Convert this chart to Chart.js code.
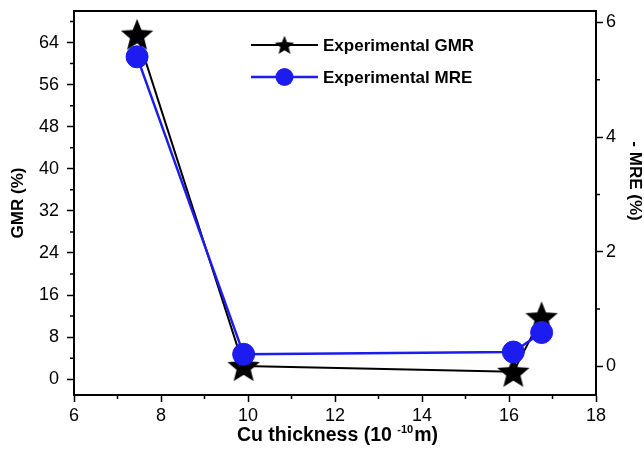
<!DOCTYPE html>
<html>
<head>
<meta charset="utf-8">
<script src="https://cdn.jsdelivr.net/npm/chart.js@4.4.0/dist/chart.umd.min.js"></script>
<style>
  html, body { margin: 0; padding: 0; background: #fff; }
</style>
</head>
<body>
<canvas id="chart" width="644" height="458"></canvas>
<script>
// Cu thickness, in units of 10^-10 m
var thickness = [7.45, 9.9, 16.1, 16.75];
var gmrValues = [65.5, 2.5, 1.4, 11.8];
var mreValues = [5.40, 0.21, 0.25, 0.59];

var xTicks = [6, 8, 10, 12, 14, 16, 18];
var gmrTicks = [0, 8, 16, 24, 32, 40, 48, 56, 64];
var mreTicks = [0, 2, 4, 6];

// x title is drawn by hand to get the superscript: base, sup, tail
var xTitle = ['Cu thickness (10 ', '-10', 'm)'];
var mreTitle = '- MRE (%)';

var BLUE = '#1c1cf0';
var FONT = "'Liberation Sans', Arial, sans-serif";

Chart.defaults.font.family = FONT;
Chart.defaults.color = '#000';

// filled five point star used as point style
function makeStar(r) {
  var size = Math.ceil(r * 2 + 2);
  var c = document.createElement('canvas');
  c.width = size;
  c.height = size;
  var g = c.getContext('2d');
  g.translate(size / 2, size / 2 + r * 0.08);
  g.beginPath();
  for (var i = 0; i < 10; i++) {
    var rad = i % 2 ? r * 0.44 : r;
    var a = -Math.PI / 2 + i * Math.PI / 5;
    g.lineTo(rad * Math.cos(a), rad * Math.sin(a));
  }
  g.closePath();
  g.fillStyle = '#000';
  g.fill();
  return c;
}
var bigStar = makeStar(17);
var smallStar = makeStar(10);

function pairs(xs, ys) {
  return xs.map(function (x, i) { return {x: x, y: ys[i]}; });
}

function setTicks(list) {
  return function (scale) {
    scale.ticks = list.map(function (v) { return {value: v}; });
  };
}

// fixed axis box sizes, no extra room for half labels
function fitWidth(w) {
  return function (s) {
    s.width = w;
    s.paddingTop = 0;
    s.paddingBottom = 0;
  };
}

// minor ticks halfway between the major ones, plus the box frame
var framePlugin = {
  id: 'frame',
  afterDraw: function (chart) {
    var ctx = chart.ctx;
    var a = chart.chartArea;
    ctx.save();
    ctx.strokeStyle = '#000';
    ctx.lineWidth = 1.5;
    var sx = chart.scales.x, sy = chart.scales.y, sr = chart.scales.y1;
    ctx.beginPath();
    for (var i = 0; i < xTicks.length - 1; i++) {
      var px = sx.getPixelForValue((xTicks[i] + xTicks[i + 1]) / 2);
      ctx.moveTo(px, a.bottom);
      ctx.lineTo(px, a.bottom + 4);
    }
    var g = gmrTicks.concat([gmrTicks[gmrTicks.length - 1] + 8]);
    for (var j = 0; j < g.length - 1; j++) {
      var v = (g[j] + g[j + 1]) / 2;
      if (v > sy.max) continue;
      var py = sy.getPixelForValue(v);
      ctx.moveTo(a.left, py);
      ctx.lineTo(a.left - 4, py);
    }
    for (var k = 0; k < mreTicks.length - 1; k++) {
      var pr = sr.getPixelForValue((mreTicks[k] + mreTicks[k + 1]) / 2);
      ctx.moveTo(a.right, pr);
      ctx.lineTo(a.right + 4, pr);
    }
    ctx.stroke();
    ctx.lineWidth = 2;
    ctx.strokeRect(a.left, a.top, a.right - a.left, a.bottom - a.top);

    // x axis title with superscript
    ctx.fillStyle = '#000';
    ctx.textBaseline = 'alphabetic';
    var big = 'bold 19.5px ' + FONT, small = 'bold 11px ' + FONT;
    ctx.font = big;
    var w0 = ctx.measureText(xTitle[0]).width, w2 = ctx.measureText(xTitle[2]).width;
    ctx.font = small;
    var w1 = ctx.measureText(xTitle[1]).width;
    var tx = (a.left + a.right) / 2 - (w0 + w1 + w2) / 2 + 2, ty = 441;
    ctx.font = big;
    ctx.fillText(xTitle[0], tx, ty);
    ctx.font = small;
    ctx.fillText(xTitle[1], tx + w0, ty - 8);
    ctx.font = big;
    ctx.fillText(xTitle[2], tx + w0 + w1 + 1, ty);

    // right axis title, reads top to bottom
    ctx.save();
    ctx.translate(635, 181);
    ctx.rotate(Math.PI / 2);
    ctx.font = 'bold 17px ' + FONT;
    ctx.textAlign = 'center';
    ctx.textBaseline = 'middle';
    ctx.fillText(mreTitle, 0, 0);
    ctx.restore();
    ctx.restore();
  }
};

// Origin style legend: line with marker in the middle
var legendPlugin = {
  id: 'originLegend',
  afterDraw: function (chart) {
    var ctx = chart.ctx;
    var a = chart.chartArea;
    var x0 = a.left + 177, x1 = a.left + 244;
    var rows = [45, 77];
    ctx.save();
    chart.data.datasets.forEach(function (ds, i) {
      var y = rows[i];
      ctx.strokeStyle = ds.borderColor;
      ctx.lineWidth = ds.borderWidth;
      ctx.beginPath();
      ctx.moveTo(x0, y);
      ctx.lineTo(x1, y);
      ctx.stroke();
      var cx = (x0 + x1) / 2;
      if (ds.pointStyle === 'circle') {
        ctx.fillStyle = ds.pointBackgroundColor;
        ctx.beginPath();
        ctx.arc(cx, y, 9, 0, Math.PI * 2);
        ctx.fill();
      } else {
        ctx.drawImage(smallStar, cx - smallStar.width / 2, y - smallStar.height / 2);
      }
      ctx.fillStyle = '#000';
      ctx.font = 'bold 17px ' + FONT;
      ctx.textBaseline = 'middle';
      ctx.fillText(ds.label, x1 + 5, y + 1);
    });
    ctx.restore();
  }
};

var tickFont = {size: 18};
// tiny line height so the half label height does not push the plot down
var yTickFont = {size: 18, lineHeight: 0.2};
var titleFont = {size: 17, weight: 'bold'};

new Chart(document.getElementById('chart'), {
  type: 'line',
  data: {
    datasets: [
      {
        label: 'Experimental GMR',
        data: pairs(thickness, gmrValues),
        yAxisID: 'y',
        borderColor: '#000',
        borderWidth: 2,
        pointStyle: bigStar,
        pointRadius: 16,
        order: 1
      },
      {
        label: 'Experimental MRE',
        data: pairs(thickness, mreValues),
        yAxisID: 'y1',
        borderColor: BLUE,
        borderWidth: 2.5,
        pointStyle: 'circle',
        pointRadius: 11,
        pointBackgroundColor: BLUE,
        pointBorderColor: BLUE,
        pointBorderWidth: 1,
        order: 0
      }
    ]
  },
  options: {
    responsive: false,
    animation: false,
    layout: {autoPadding: false, padding: {top: 11, left: 0, right: 0, bottom: 0}},
    plugins: {legend: {display: false}, tooltip: {enabled: false}},
    scales: {
      x: {
        type: 'linear',
        min: 6,
        max: 18,
        afterBuildTicks: setTicks(xTicks),
        afterFit: function (s) { s.height = 63; },
        grid: {drawOnChartArea: false, tickLength: 7, tickColor: '#000', tickWidth: 1.5},
        border: {color: '#000', width: 2},
        ticks: {font: tickFont, color: '#000', padding: 3, maxRotation: 0}
      },
      y: {
        position: 'left',
        min: -3,
        max: 70,
        afterBuildTicks: setTicks(gmrTicks),
        afterFit: fitWidth(74),
        grid: {drawOnChartArea: false, tickLength: 7, tickColor: '#000', tickWidth: 1.5},
        border: {color: '#000', width: 2},
        ticks: {font: yTickFont, color: '#000', padding: 8},
        title: {display: true, text: 'GMR (%)', font: titleFont, color: '#000', padding: {top: 8, bottom: 0}}
      },
      y1: {
        position: 'right',
        min: -0.5,
        max: 6.2,
        afterBuildTicks: setTicks(mreTicks),
        afterFit: fitWidth(48),
        grid: {drawOnChartArea: false, tickLength: 7, tickColor: '#000', tickWidth: 1.5},
        border: {color: '#000', width: 2},
        ticks: {font: yTickFont, color: '#000', padding: 3}
      }
    }
  },
  plugins: [framePlugin, legendPlugin]
});
</script>
</body>
</html>
